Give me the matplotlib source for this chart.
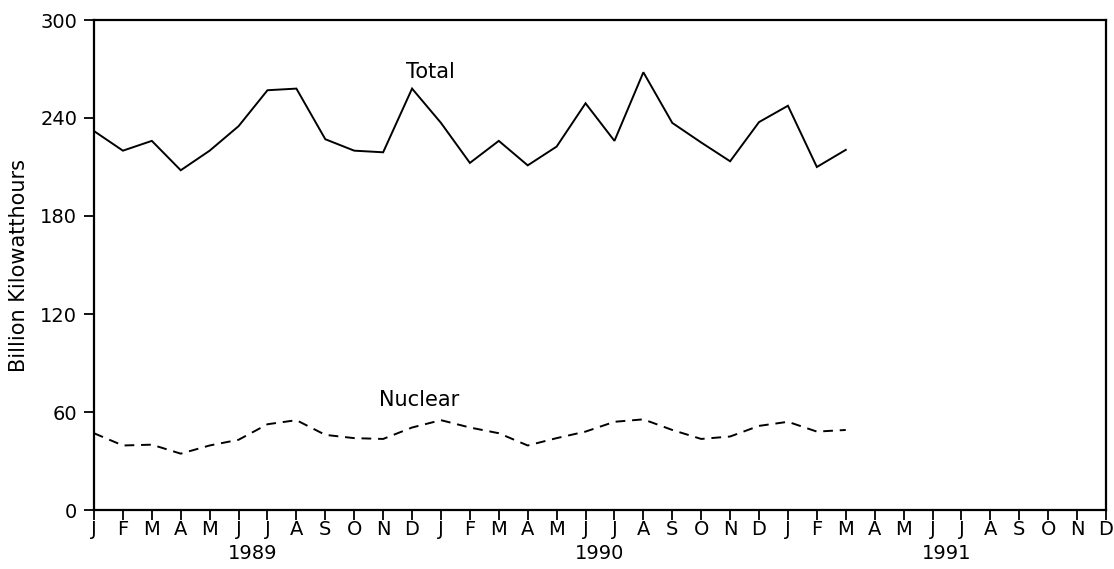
import matplotlib
matplotlib.use("Agg")
import matplotlib.pyplot as plt
import matplotlib.transforms as mtransforms

# Monthly net generation, billion kilowatthours (Jan 1989 - Mar 1991)
total = [232, 220, 226, 208, 220, 235, 257, 258, 227, 220, 219, 258,
         237, 212.5, 226, 211, 222.5, 249, 226, 268, 237, 225, 213.5, 237.5,
         247.5, 210, 220.5]
nuclear = [47, 39.5, 40, 34.5, 39.5, 43, 52.5, 55, 46, 44, 43.5, 50.5,
           55, 50.5, 47, 39.5, 44, 48, 54, 55.5, 49, 43.5, 45, 51.5,
           54, 48, 49]

month_letters = ["J", "F", "M", "A", "M", "J", "J", "A", "S", "O", "N", "D"]
years = ["1989", "1990", "1991"]
y_ticks = [0, 60, 120, 180, 240, 300]

plt.rcParams["font.family"] = ["DejaVu Sans"]
FS = 14

W, H = 1114, 569
fig = plt.figure(figsize=(W / 100, H / 100), dpi=100)
ax = fig.add_axes([94 / W, (H - 510) / H, (1106 - 94) / W, (510 - 20) / H])

n_months = len(month_letters) * len(years)
months = list(range(len(total)))

ax.plot(months, total, color="black", lw=1.4, solid_joinstyle="miter")
ax.plot(months, nuclear, color="black", lw=1.4, linestyle=(0, (5, 3.5)))

ax.set_xlim(0, n_months - 1)
ax.set_ylim(0, 300)

ax.set_xticks(range(n_months))
ax.set_xticklabels(month_letters * len(years))
ax.set_yticks(y_ticks)
ax.set_yticklabels([str(v) for v in y_ticks])

ax.tick_params(axis="both", direction="out", length=7, width=1.3,
               labelsize=FS, colors="black")
ax.tick_params(axis="x", pad=0)
ax.tick_params(axis="y", pad=5)

for sp in ax.spines.values():
    sp.set_linewidth(1.6)
    sp.set_color("black")

ax.set_ylabel("Billion Kilowatthours", fontsize=FS + 1, labelpad=8)

# Year labels centred under each block of twelve months
trans = mtransforms.blended_transform_factory(ax.transData, ax.transAxes)
for i, yr in enumerate(years):
    ax.text(i * 12 + 5.5, -0.069, yr, transform=trans, ha="center", va="top",
            fontsize=FS)

ax.text(11.65, 262, "Total", ha="center", va="bottom", fontsize=FS + 1)
ax.text(11.25, 61.5, "Nuclear", ha="center", va="bottom", fontsize=FS + 1)

fig.savefig("out.png", dpi=100, facecolor="white")
